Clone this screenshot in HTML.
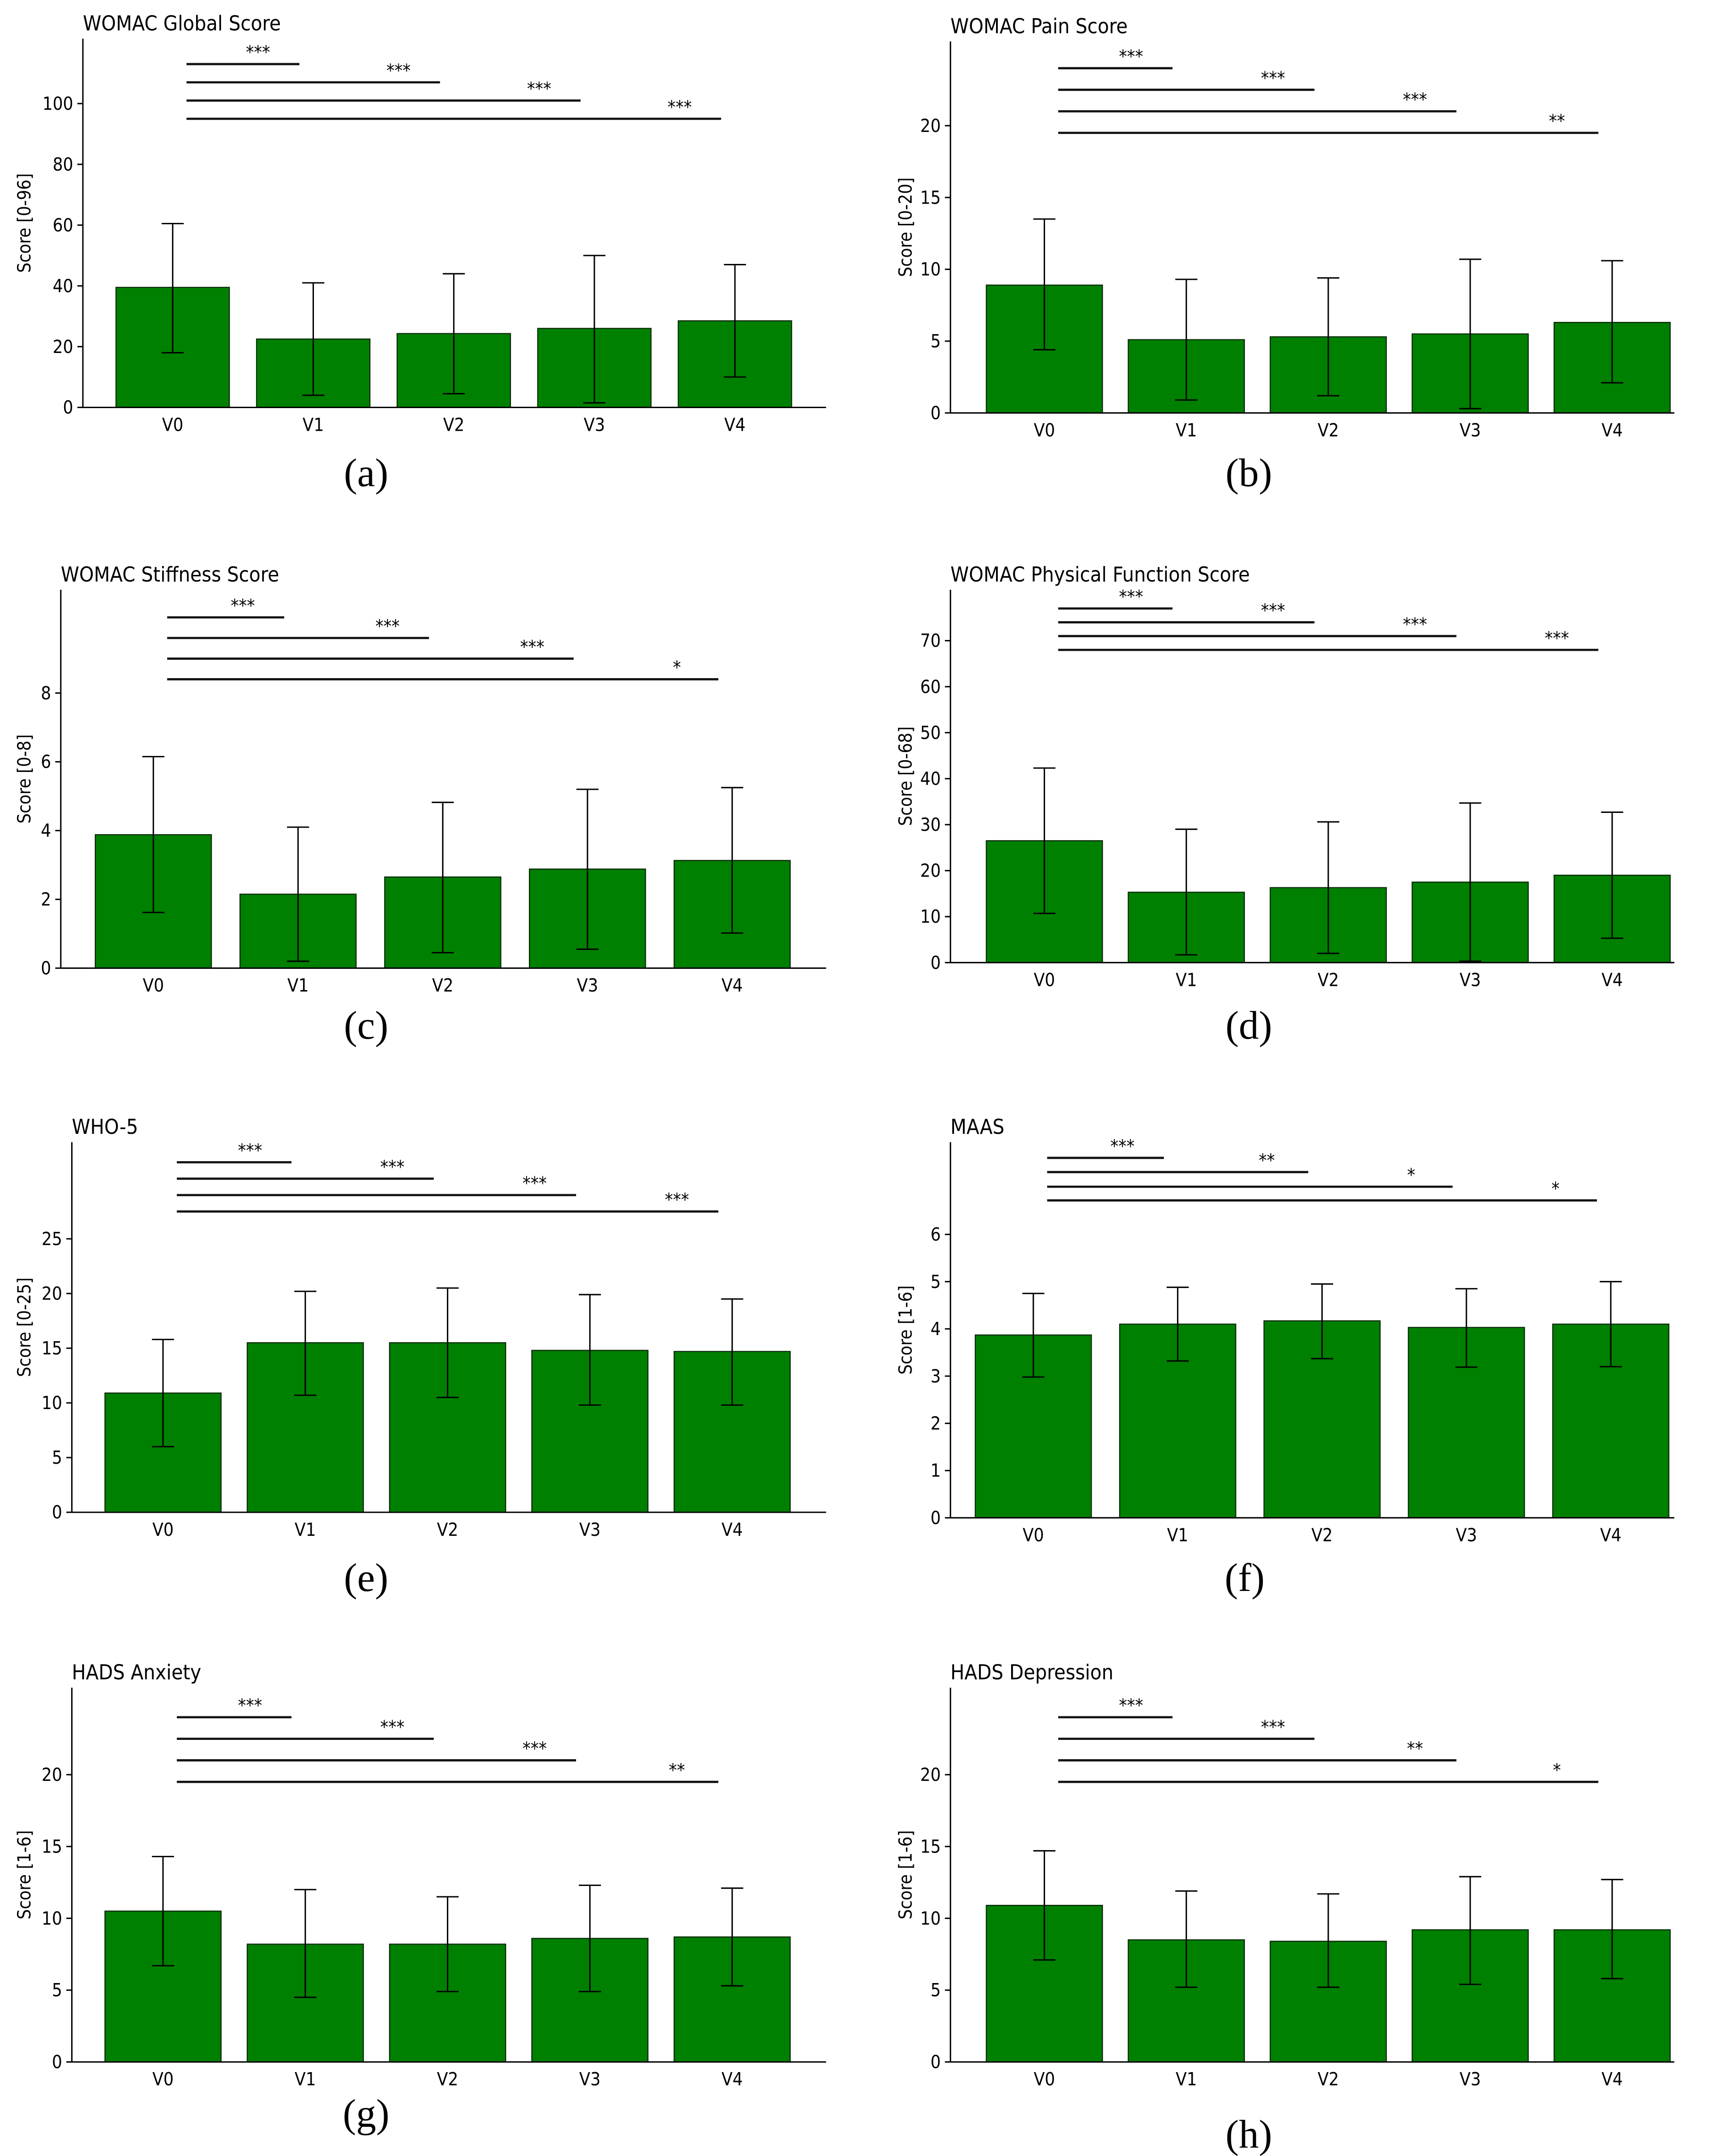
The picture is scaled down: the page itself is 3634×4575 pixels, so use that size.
<!DOCTYPE html>
<html><head><meta charset="utf-8"><style>
html,body{margin:0;padding:0;background:#fff;}
svg{display:block;}
text{font-family:"DejaVu Sans Condensed","DejaVu Sans","Liberation Sans",sans-serif;fill:#000;}
.lab{font-family:"Liberation Serif",serif;}
</style></head><body>
<svg id="fig" xmlns="http://www.w3.org/2000/svg" width="3634" height="4575" viewBox="0 0 1240 1561.1" preserveAspectRatio="none"></svg>
<script>
// ---- data ----
const categories = ["V0","V1","V2","V3","V4"];
const titles = ["WOMAC Global Score","WOMAC Pain Score","WOMAC Stiffness Score","WOMAC Physical Function Score","WHO-5","MAAS","HADS Anxiety","HADS Depression"];
const yLabels = ["Score [0-96]","Score [0-20]","Score [0-8]","Score [0-68]","Score [0-25]","Score [1-6]","Score [1-6]","Score [1-6]"];
const panelLetters = ["(a)","(b)","(c)","(d)","(e)","(f)","(g)","(h)"];
const meansA=[39.5,22.5,24.3,26,28.5], lowA=[18,4,4.5,1.5,10], highA=[60.5,41,44,50,47];
const meansB=[8.9,5.1,5.3,5.5,6.3], lowB=[4.4,0.9,1.2,0.3,2.1], highB=[13.5,9.3,9.4,10.7,10.6];
const meansC=[3.88,2.15,2.65,2.88,3.13], lowC=[1.62,0.2,0.45,0.55,1.02], highC=[6.15,4.1,4.82,5.2,5.25];
const meansD=[26.5,15.3,16.3,17.5,19], lowD=[10.7,1.7,2,0.3,5.3], highD=[42.3,29,30.6,34.7,32.7];
const meansE=[10.9,15.5,15.5,14.8,14.7], lowE=[6,10.7,10.5,9.8,9.8], highE=[15.8,20.2,20.5,19.9,19.5];
const meansF=[3.87,4.1,4.17,4.03,4.1], lowF=[2.98,3.32,3.37,3.19,3.2], highF=[4.75,4.88,4.95,4.85,5.0];
const meansG=[10.5,8.2,8.2,8.6,8.7], lowG=[6.7,4.5,4.9,4.9,5.3], highG=[14.3,12,11.5,12.3,12.1];
const meansH=[10.9,8.5,8.4,9.2,9.2], lowH=[7.1,5.2,5.2,5.4,5.8], highH=[14.7,11.9,11.7,12.9,12.7];
const bracketA=[113,107,101,95], starsA=["***","***","***","***"];
const bracketB=[24,22.5,21,19.5], starsB=["***","***","***","**"];
const bracketC=[10.2,9.6,9.0,8.4], starsC=["***","***","***","*"];
const bracketD=[77,74,71,68], starsD=["***","***","***","***"];
const bracketE=[32,30.5,29,27.5], starsE=["***","***","***","***"];
const bracketF=[7.62,7.32,7.01,6.72], starsF=["***","**","*","*"];
const bracketG=[24,22.5,21,19.5], starsG=["***","***","***","**"];
const bracketH=[24,22.5,21,19.5], starsH=["***","***","**","*"];
const ticksA=[0,20,40,60,80,100], ticksB=[0,5,10,15,20], ticksC=[0,2,4,6,8], ticksD=[0,10,20,30,40,50,60,70];
const ticksE=[0,5,10,15,20,25], ticksF=[0,1,2,3,4,5,6], ticksG=[0,5,10,15,20], ticksH=[0,5,10,15,20];
const means=[meansA,meansB,meansC,meansD,meansE,meansF,meansG,meansH];
const lows=[lowA,lowB,lowC,lowD,lowE,lowF,lowG,lowH];
const highs=[highA,highB,highC,highD,highE,highF,highG,highH];
const brackets=[bracketA,bracketB,bracketC,bracketD,bracketE,bracketF,bracketG,bracketH];
const stars=[starsA,starsB,starsC,starsD,starsE,starsF,starsG,starsH];
const ticks=[ticksA,ticksB,ticksC,ticksD,ticksE,ticksF,ticksG,ticksH];
// ---- layout (display units) ----
const layout=[
 {l:60,r:598,t:28,b:295,px:2.2,c0:125,st:101.75,w:82,yl:17,lx:265,ly:352},
 {l:688,r:1212,t:30,b:299,px:10.4,c0:756,st:102.75,w:84,yl:655,lx:904,ly:352},
 {l:44,r:598,t:427,b:701,px:24.9,c0:111,st:104.75,w:84,yl:17,lx:265,ly:752},
 {l:688,r:1212,t:427,b:697,px:3.33,c0:756,st:102.75,w:84,yl:655,lx:904,ly:752},
 {l:52,r:598,t:827,b:1095,px:7.92,c0:118,st:103,w:84,yl:17,lx:265,ly:1152},
 {l:688,r:1212,t:827,b:1099,px:34.2,c0:748,st:104.5,w:84,yl:655,lx:901,ly:1152},
 {l:52,r:598,t:1222,b:1493,px:10.4,c0:118,st:103,w:84,yl:17,lx:265,ly:1540},
 {l:688,r:1212,t:1222,b:1493,px:10.4,c0:756,st:102.75,w:84,yl:655,lx:904,ly:1555}
];
const NS="http://www.w3.org/2000/svg";
const svg=document.getElementById('fig');
function mk(tag,attrs,parent){const e=document.createElementNS(NS,tag);for(const k in attrs)e.setAttribute(k,attrs[k]);(parent||svg).appendChild(e);return e;}
layout.forEach((L,p)=>{
  const g=mk('g',{});
  
  
  const y=v=>L.b-v*L.px, x=i=>L.c0+i*L.st;
  const t=mk('text',{x:L.l,y:L.t-6,'font-size':15},g);t.textContent=titles[p];
  
  
  // bars
  categories.forEach((c,i)=>{
    const r=mk('rect',{x:x(i)-L.w/2,y:y(means[p][i]),width:L.w,height:means[p][i]*L.px,fill:'#008000',stroke:'#0a2a0a','stroke-width':0.8},g);
    
    
    const e=mk('g',{stroke:'#000','stroke-width':1},g);
    
    
    mk('line',{x1:x(i),x2:x(i),y1:y(lows[p][i]),y2:y(highs[p][i])},e);
    mk('line',{x1:x(i)-8,x2:x(i)+8,y1:y(lows[p][i]),y2:y(lows[p][i])},e);
    mk('line',{x1:x(i)-8,x2:x(i)+8,y1:y(highs[p][i]),y2:y(highs[p][i])},e);
    mk('line',{x1:x(i),x2:x(i),y1:L.b,y2:L.b+4},g);
    const tl=mk('text',{x:x(i),y:L.b+17,'font-size':13,'text-anchor':'middle'},g);tl.textContent=c;
    
    
  });
  // axes
  mk('line',{x1:L.l,x2:L.l,y1:L.t,y2:L.b,stroke:'#000','stroke-width':1},g);
  mk('line',{x1:L.l,x2:L.r,y1:L.b,y2:L.b,stroke:'#000','stroke-width':1},g);
  ticks[p].forEach(v=>{
    mk('line',{x1:L.l-4,x2:L.l,y1:y(v),y2:y(v),stroke:'#000','stroke-width':1},g);
    const tt=mk('text',{x:L.l-7,y:y(v)+4.5,'font-size':13,'text-anchor':'end'},g);tt.textContent=v;
    
    
  });
  const yl=mk('text',{x:0,y:0,'font-size':13,'text-anchor':'middle',transform:`translate(${L.yl+5},${(L.t+L.b)/2}) rotate(-90)`},g);yl.textContent=yLabels[p];
  
  
  // significance brackets
  brackets[p].forEach((bv,k)=>{
    const x1=x(0)+10, x2=x(k+1)-10;
    const ln=mk('line',{x1:x1,x2:x2,y1:y(bv),y2:y(bv),stroke:'#111','stroke-width':1.6},g);
    
    
    const s=mk('text',{x:x2-30,y:y(bv)-4,'font-size':13,'text-anchor':'middle'},g);s.textContent=stars[p][k];
    
    
  });
  const lt=mk('text',{x:L.lx,y:L.ly,'font-size':29,'text-anchor':'middle',class:'lab'},g);lt.textContent=panelLetters[p];
  
  
});
</script>
</body></html>
